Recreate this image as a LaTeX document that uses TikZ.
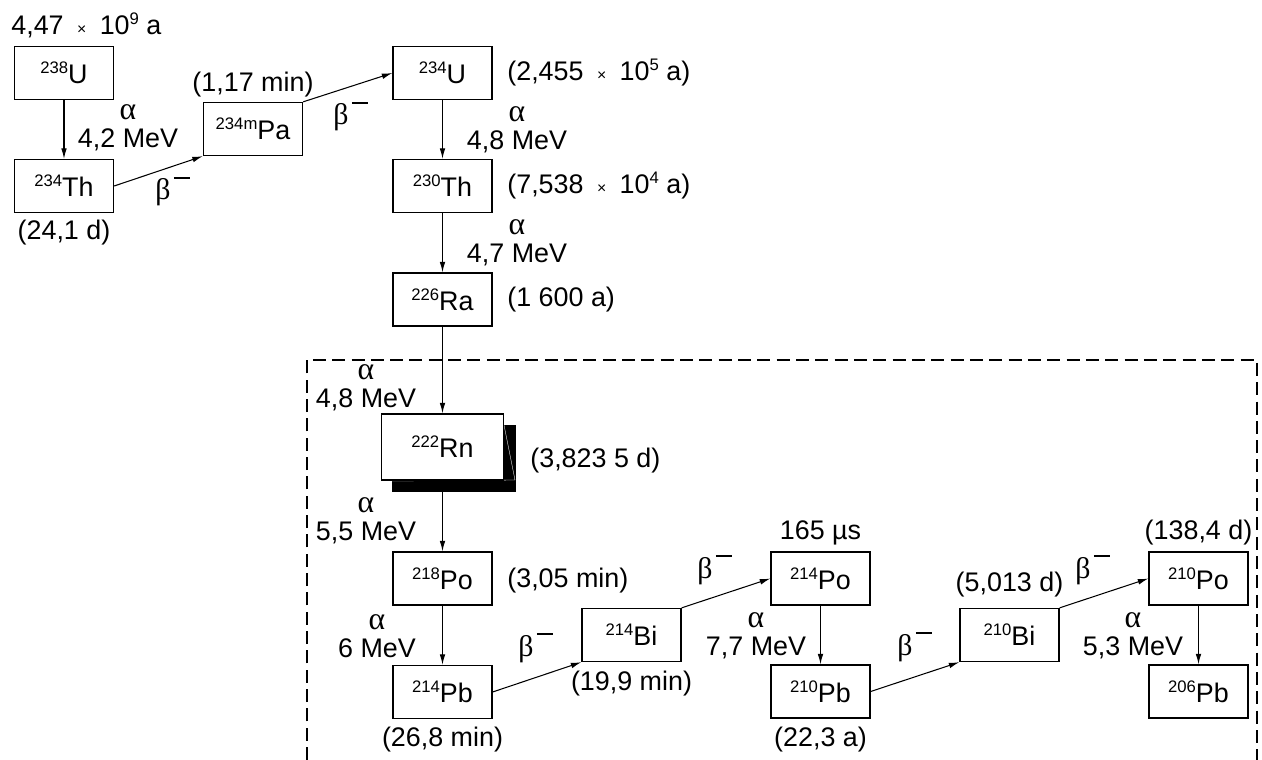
\documentclass[tikz,border=0pt]{standalone}
\usepackage{fontspec}
\setmainfont{Liberation Sans}
\newfontfamily\greekfont{Liberation Serif}
\usetikzlibrary{arrows.meta}

\newcommand{\nsup}[1]{\raisebox{5.7pt}{\fontsize{9.5}{10}\selectfont #1}}
\newcommand{\ntimes}{\hspace{0.5em}{\fontsize{9}{10}\selectfont ×}\hspace{0.5em}}
\newcommand{\alphay}{{\greekfont\fontsize{18}{18}\selectfont α}}
\newcommand{\betaminus}{{\greekfont\fontsize{17}{17}\selectfont β}\hspace{0.12em}\rule[0.78em]{0.62em}{1.1pt}}

\tikzset{
  nuclide/.style={draw, line width=0.75pt, fill=white, inner sep=0pt,
    minimum width=1.98cm, minimum height=1.06cm},
  radon/.style={nuclide, minimum width=2.44cm, minimum height=1.32cm},
  decay/.style={-{Latex[length=6pt,width=3.2pt]}, line width=0.6pt},
  energy/.style={align=center, inner sep=0pt},
  halflife/.style={inner sep=0pt},
  region/.style={line width=0.7pt, dash pattern=on 7.4pt off 3.6pt},
}

\begin{document}
\begin{tikzpicture}[x=0.02cm, y=-0.02cm, font=\fontsize{15.3}{15}\selectfont]
	\useasboundingbox (0,0) rectangle (1262,760);
	% dashed region of the radon daughters
	\draw[region] (307,760) -- (307,360) -- (1257,360) -- (1257,760);
	% stacked sheets behind radon
	\fill[black] (392,425) rectangle (516,492);
	\draw[white, line width=0.2pt] (504,425) -- (515,480) -- (392,481);
	% nuclides
	\node[nuclide] (U238) at (64,73) {\nsup{238}U};
	\node[nuclide] (Th234) at (64,186) {\nsup{234}Th};
	\node[nuclide] (Pa234) at (253,129) {\nsup{234m}Pa};
	\node[nuclide] (U234) at (442.5,73) {\nsup{234}U};
	\node[nuclide] (Th230) at (442.5,186) {\nsup{230}Th};
	\node[nuclide] (Ra226) at (442.5,299.5) {\nsup{226}Ra};
	\node[radon] (Rn222) at (442.5,447) {\nsup{222}Rn};
	\node[nuclide] (Po218) at (442.5,578.5) {\nsup{218}Po};
	\node[nuclide] (Pb214) at (442.5,692) {\nsup{214}Pb};
	\node[nuclide] (Bi214) at (631.5,635) {\nsup{214}Bi};
	\node[nuclide] (Po214) at (820.5,578.5) {\nsup{214}Po};
	\node[nuclide] (Pb210) at (820.5,691.5) {\nsup{210}Pb};
	\node[nuclide] (Bi210) at (1009.5,635) {\nsup{210}Bi};
	\node[nuclide] (Po210) at (1198.5,578.5) {\nsup{210}Po};
	\node[nuclide] (Pb206) at (1198.5,691.5) {\nsup{206}Pb};
	% decays
	\draw[decay] (U238) -- (Th234);
	\draw[decay] (Th234.east) -- (Pa234.south west);
	\draw[decay] (Pa234.north east) -- (U234.west);
	\draw[decay] (U234) -- (Th230);
	\draw[decay] (Th230) -- (Ra226);
	\draw[decay] (Ra226) -- (Rn222);
	\draw[decay] (Rn222) -- (Po218);
	\draw[decay] (Po218) -- (Pb214);
	\draw[decay] (Pb214.east) -- (Bi214.south west);
	\draw[decay] (Bi214.north east) -- (Po214.west);
	\draw[decay] (Po214) -- (Pb210);
	\draw[decay] (Pb210.east) -- (Bi210.south west);
	\draw[decay] (Bi210.north east) -- (Po210.west);
	\draw[decay] (Po210) -- (Pb206);
	% half-lives
	\node[halflife, anchor=base west] (tU238) at (11,35) {4,47\ntimes 10\nsup{9} a};
	\node[halflife, anchor=base] (tTh234) at (64,240) {(24,1 d)};
	\node[halflife, anchor=base] (tPa234) at (253,92) {(1,17 min)};
	\node[halflife, anchor=base west] (tU234) at (507,81) {(2,455\ntimes 10\nsup{5} a)};
	\node[halflife, anchor=base west] (tTh230) at (507,194) {(7,538\ntimes 10\nsup{4} a)};
	\node[halflife, anchor=base west] (tRa226) at (507,307) {(1 600 a)};
	\node[halflife, anchor=base west] (tRn222) at (530,467) {(3,823 5 d)};
	\node[halflife, anchor=base west] (tPo218) at (507,587) {(3,05 min)};
	\node[halflife, anchor=base] (tPb214) at (442.5,746) {(26,8 min)};
	\node[halflife, anchor=base] (tBi214) at (631.5,690) {(19,9 min)};
	\node[halflife, anchor=base] (tPo214) at (820.5,539) {165 µs};
	\node[halflife, anchor=base] (tPb210) at (820.5,746) {(22,3 a)};
	\node[halflife, anchor=base] (tBi210) at (1009.5,591) {(5,013 d)};
	\node[halflife, anchor=base] (tPo210) at (1198.5,539) {(138,4 d)};
	% alpha energies
	\node[energy] (aU238) at (128,128) {\alphay\\[1pt]4,2 MeV};
	\node[energy] (aU234) at (517,130) {\alphay\\[1pt]4,8 MeV};
	\node[energy] (aTh230) at (517,243) {\alphay\\[1pt]4,7 MeV};
	\node[energy] (aRa226) at (366,388) {\alphay\\[1pt]4,8 MeV};
	\node[energy] (aRn222) at (366,521) {\alphay\\[1pt]5,5 MeV};
	\node[energy] (aPo218) at (377,636) {\alphay\\[1pt]6 MeV};
	\node[energy] (aPo214) at (756,636) {\alphay\\[1pt]7,7 MeV};
	\node[energy] (aPo210) at (1133,636) {\alphay\\[1pt]5,3 MeV};
	% beta decays
	\node[halflife, anchor=base west] (bTh234) at (155,200) {\betaminus};
	\node[halflife, anchor=base west] (bPa234) at (333,125) {\betaminus};
	\node[halflife, anchor=base west] (bPb214) at (518,656) {\betaminus};
	\node[halflife, anchor=base west] (bBi214) at (697,578) {\betaminus};
	\node[halflife, anchor=base west] (bPb210) at (897,655) {\betaminus};
	\node[halflife, anchor=base west] (bBi210) at (1075,578) {\betaminus};
\end{tikzpicture}
\end{document}
